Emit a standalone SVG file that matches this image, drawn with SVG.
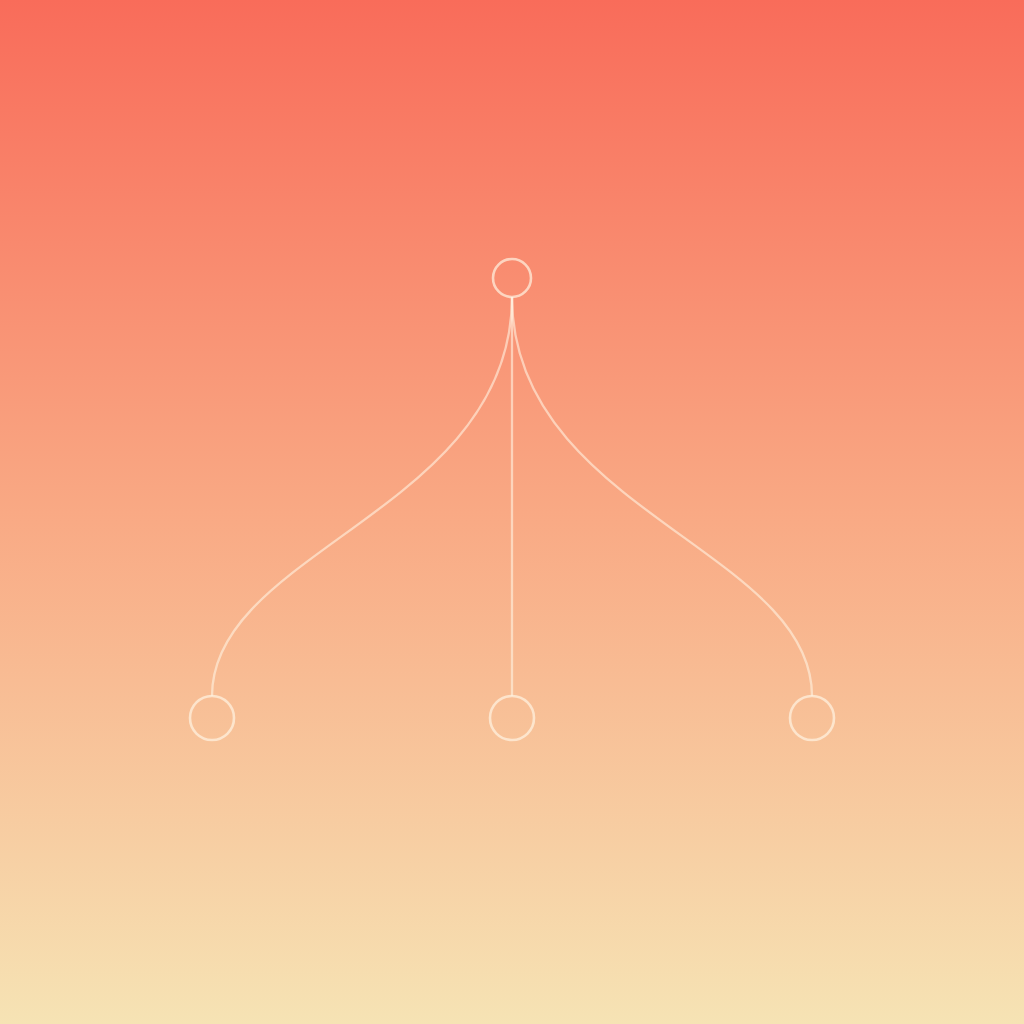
<svg xmlns="http://www.w3.org/2000/svg" width="1024" height="1024" viewBox="0 0 1024 1024">
  <defs>
    <linearGradient id="bg" x1="0" y1="0" x2="0" y2="1">
      <stop offset="0" stop-color="#F96C5A"/>
      <stop offset="0.5" stop-color="#F9A984"/>
      <stop offset="1" stop-color="#F6E3B4"/>
    </linearGradient>
  </defs>
  <style>
    .node { fill: none; stroke: #FFF3E2; stroke-opacity: 0.7; stroke-width: 2.6; }
    .edge { fill: none; stroke: #FFF3E2; stroke-opacity: 0.6; stroke-width: 2.3; }
  </style>
  <rect x="0" y="0" width="1024" height="1024" fill="url(#bg)"/>
  <g id="connectors">
    <path class="edge" d="M512 297 C512 510 212 550 212 696"/>
    <path class="edge" d="M512 297 L512 696"/>
    <path class="edge" d="M512 297 C512 510 812 550 812 696"/>
  </g>
  <g id="root"><circle class="node" cx="512" cy="278" r="19"/></g>
  <g id="left"><circle class="node" cx="212" cy="718" r="22"/></g>
  <g id="middle"><circle class="node" cx="512" cy="718" r="22"/></g>
  <g id="right"><circle class="node" cx="812" cy="718" r="22"/></g>
</svg>
